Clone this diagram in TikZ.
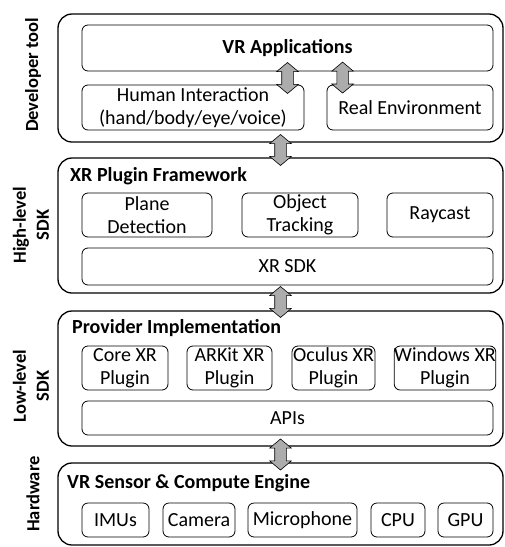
\documentclass[tikz,border=0pt]{standalone}
\usepackage{fontspec}
\setmainfont{Carlito}
\usetikzlibrary{shapes.arrows,calc}

\begin{document}
\begin{tikzpicture}[x=1pt,y=-1pt,
    layer/.style={draw, line width=1.3pt, rounded corners=14pt, minimum width=445pt, inner sep=0pt},
    part/.style={draw, line width=0.8pt, rounded corners=6pt, align=center, inner sep=0pt,
      font=\fontsize{20}{22.5}\selectfont},
    title/.style={anchor=west, inner sep=0pt, font=\bfseries\fontsize{20}{22.5}\selectfont},
    side/.style={rotate=90, align=center, inner sep=0pt, font=\bfseries\fontsize{18.5}{23}\selectfont},
    updown/.style={double arrow, draw, line width=0.6pt, fill=gray!65, rotate=90,
      inner xsep=0pt, inner ysep=5.5pt, minimum width=0pt, minimum height=31pt,
      double arrow head extend=5pt, double arrow tip angle=100, double arrow head indent=0pt}]
  \useasboundingbox (0,0) rectangle (505,547);

  % Outer layers
  \node[layer, minimum height=128pt] (dev) at (280.5,78) {};
  \node[layer, minimum height=135pt] (high) at (280.5,225.5) {};
  \node[layer, minimum height=135pt] (low) at (280.5,378.5) {};
  \node[layer, minimum height=82pt] (hw) at (280.5,504) {};

  % Side labels
  \node[side] (devlbl) at (33,75) {Developer tool};
  \node[side] (highlbl) at (31,225) {High-level\\SDK};
  \node[side] (lowlbl) at (31,386) {Low-level\\SDK};
  \node[side] (hwlbl) at (33,494) {Hardware};

  % Developer tool
  \node[part, minimum width=411pt, minimum height=46pt, font=\bfseries\fontsize{20}{22.5}\selectfont]
    (app) at (287.5,48) {VR Applications};
  \node[part, minimum width=222pt, minimum height=45pt] (hum) at (193,107.5)
    {Human Interaction\\(hand/body/eye/voice)};
  \node[part, minimum width=166pt, minimum height=45pt] (env) at (410,107.5) {Real Environment};

  % High-level SDK
  \node[title] (xrpf) at (70,176) {XR Plugin Framework};
  \node[part, minimum width=130pt, minimum height=44pt] (plane) at (147,215) {Plane\\Detection};
  \node[part, minimum width=116pt, minimum height=44pt] (obj) at (300,215) {Object\\Tracking};
  \node[part, minimum width=106pt, minimum height=44pt] (ray) at (440,215) {Raycast};
  \node[part, minimum width=411pt, minimum height=37pt] (sdk) at (287.5,266.5) {XR SDK};

  % Low-level SDK
  \node[title] (prov) at (72,328) {Provider Implementation};
  \node[part, minimum width=86pt, minimum height=44pt] (core) at (125,368) {Core XR\\Plugin};
  \node[part, minimum width=85pt, minimum height=44pt] (arkit) at (229.5,368) {ARKit XR\\Plugin};
  \node[part, minimum width=83pt, minimum height=44pt] (oculus) at (333.5,368) {Oculus XR\\Plugin};
  \node[part, minimum width=96pt, minimum height=44pt] (win) at (445,368) {Windows XR\\Plugin};
  \node[part, minimum width=411pt, minimum height=34pt] (apis) at (287.5,418) {APIs};

  % Hardware
  \node[title] (engine) at (67,483) {VR Sensor \& Compute Engine};
  \node[part, minimum width=67pt, minimum height=34pt] (imus) at (115.5,520) {IMUs};
  \node[part, minimum width=72pt, minimum height=34pt] (cam) at (199,520) {Camera};
  \node[part, minimum width=109pt, minimum height=34pt] (mic) at (302.5,520) {Microphone};
  \node[part, minimum width=54pt, minimum height=34pt] (cpu) at (398,520) {CPU};
  \node[part, minimum width=55pt, minimum height=34pt] (gpu) at (465.5,520) {GPU};

  % Double arrows between parts
  \node[updown] (a1) at ($(app.south)!.5!(hum.north -| app.south)$) {};
  \node[updown] (a2) at ($(env.north west)+(16,-7)$) {};
  \node[updown] (a3) at ($(dev.south)!.5!(high.north)$ -| app.south) {};
  \node[updown] (a4) at ($(high.south)!.5!(low.north)$ -| app.south) {};
  \node[updown] (a5) at ($(low.south)!.5!(hw.north)$ -| app.south) {};
\end{tikzpicture}
\end{document}
